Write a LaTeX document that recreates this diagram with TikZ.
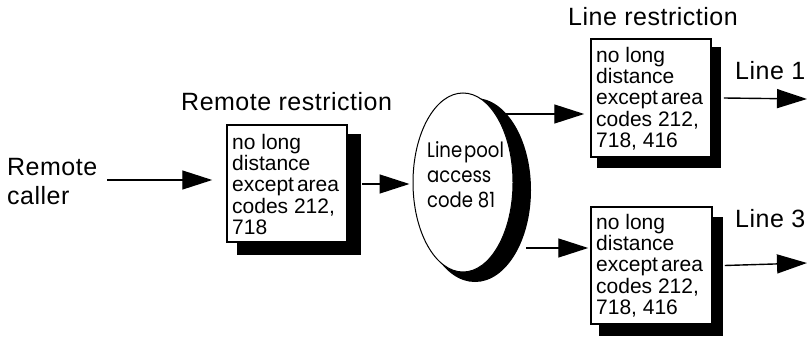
\documentclass[tikz,border=0pt]{standalone}
\usepackage{fontspec}
\setmainfont{Liberation Sans}
\newfontfamily\labelfont[LetterSpace=2]{Liberation Sans}
\newfontfamily\poolfont[FakeStretch=0.86]{Poppins}
\usetikzlibrary{arrows.meta,shapes.geometric,calc}
\begin{document}
\begin{tikzpicture}[x=1pt,y=-1pt,
  lbl/.style={anchor=base west,inner sep=0pt,font=\labelfont\fontsize{25}{29}\selectfont,align=left},
  rbox/.style={draw=black,fill=white,line width=1.5pt,inner sep=0pt},
  rshadow/.style={fill=black},
  btext/.style={anchor=north west,inner sep=0pt,align=left,font=\fontsize{21}{21.2}\selectfont},
  arr/.style={line width=1.4pt,-{Triangle[length=30pt,width=19pt]}}]
\useasboundingbox (0,0) rectangle (808,337);
% titles
\node[lbl] (trem) at (181,110) {Remote restriction};
\node[lbl] (tline) at (568,26) {Line restriction};
\node[lbl] (l1) at (735,79) {Line 1};
\node[lbl] (l3) at (735,227) {Line 3};
\node[lbl,anchor=west] (caller) at (7,182) {Remote\\caller};
% box 1
\fill[rshadow] (237,134) rectangle (361,255);
\node[rbox,minimum width=120pt,minimum height=117pt] (b1) at (287,183.5) {};
\node[btext] (t1) at (232,134) {no long\\distance\\except\kern3pt area\\codes 212,\\718};
% box 2
\fill[rshadow] (597,47) rectangle (721,168);
\node[rbox,minimum width=120pt,minimum height=118pt] (b2) at (651,98) {};
\node[btext] (t2) at (596,47) {no long\\distance\\except\kern3pt area\\codes 212,\\718, 416};
% box 3
\fill[rshadow] (599,217) rectangle (723,336);
\node[rbox,minimum width=121pt,minimum height=117pt] (b3) at (651.5,265.5) {};
\node[btext] (t3) at (596,214) {no long\\distance\\except\kern3pt area\\codes 212,\\718, 416};
% ellipse
\node[ellipse,fill=black,minimum width=112pt,minimum height=184pt,inner sep=0pt] (poolsh) at (475,190) {};
\node[ellipse,draw=black,fill=white,line width=1pt,minimum width=100pt,minimum height=179pt,inner sep=0pt] (pool) at (463,182.5) {};
\node[anchor=base west,inner sep=0pt,align=left,font=\poolfont\fontsize{21}{25}\selectfont] (pt) at (427,207) {Line\kern2pt pool\\access\\code 81};
% connectors
\coordinate (c1) at ($(caller.east)+(10,-2)$);
\draw[arr] (c1) -- (c1 -| b1.west) [shorten >=14pt];
\draw[arr,shorten >=3pt] ($(b1.east)+(14,0.5)$) -- (pool.west |- 0,184);
\coordinate (o1) at (502,114);
\coordinate (o2) at (526,248);
\draw[arr,shorten >=6pt] (o1) -- (o1 -| b2.west);
\draw[arr,shorten >=2pt] (o2) -- (o2 -| b3.west);
\coordinate (e1) at (807,99);
\coordinate (e3) at (807,263);
\draw[arr] ($(b2.east)+(12,0)$ |- e1) -- (e1);
\draw[arr] ($(b3.east)+(12,0)$ |- e3) -- (e3);
\end{tikzpicture}
\end{document}
